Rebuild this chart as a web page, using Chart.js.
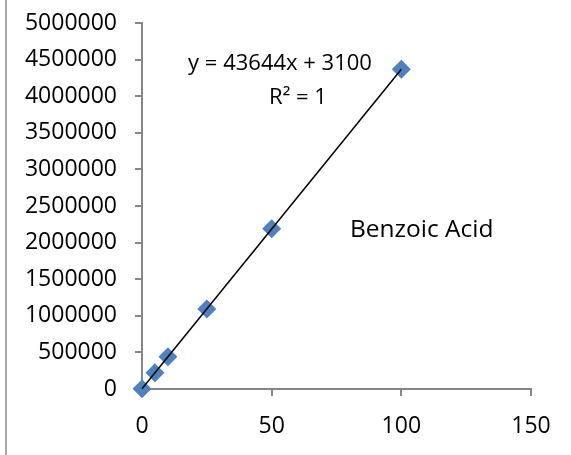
<!DOCTYPE html>
<html>
<head>
<meta charset="utf-8">
<script src="https://cdn.jsdelivr.net/npm/chart.js@4"></script>
<style>
  html, body { margin: 0; padding: 0; background: #fff; }
  #wrap { position: relative; width: 571px; height: 455px; }
  #wrap:before { content: ""; position: absolute; left: 5px; top: 0; width: 2px; height: 455px; background: #a6a6a6; }
</style>
</head>
<body>
<div id="wrap"><canvas id="chart" width="571" height="455"></canvas></div>
<script>
// Benzoic acid calibration
const concentration = [0, 5, 10, 25, 50, 100];
const peakArea = [3100, 221000, 440000, 1094000, 2190000, 4367000];
const trendX = [0, 100];
const slope = 43644;
const intercept = 3100;
const xTicks = [0, 50, 100, 150];
const yTicks = [0, 500000, 1000000, 1500000, 2000000, 2500000, 3000000, 3500000, 4000000, 4500000, 5000000];

const font = "'Open Sans', sans-serif";
const axisGray = '#868686';

// text drawn on the plot
const labels = {
    id: 'labels',
    afterDraw(chart) {
        const ctx = chart.ctx;
        ctx.save();
        ctx.fillStyle = '#000';
        ctx.textBaseline = 'alphabetic';
        ctx.font = "22px " + font;
        ctx.textAlign = 'center';
        ctx.fillText('y = 43644x + 3100', 280, 70);
        ctx.fillText('R² = 1', 298, 104);
        ctx.font = "24.5px " + font;
        ctx.textAlign = 'left';
        ctx.fillText('Benzoic Acid', 350, 237);
        ctx.restore();
    }
};

new Chart(document.getElementById('chart'), {
    type: 'scatter',
    data: {
        datasets: [
            {
                label: 'Linear',
                data: trendX.map(x => ({ x: x, y: slope * x + intercept })),
                showLine: true,
                borderColor: '#000',
                borderWidth: 1.5,
                pointRadius: 0,
                clip: false
            },
            {
                label: 'Benzoic Acid',
                data: concentration.map((x, i) => ({ x: x, y: peakArea[i] })),
                pointStyle: 'rectRot',
                pointRadius: 9.5,
                backgroundColor: '#4F81BD',
                borderColor: '#4F81BD',
                borderWidth: 0,
                clip: false
            }
        ]
    },
    options: {
        responsive: false,
        animation: false,
        layout: { padding: { top: 23, right: 40, left: 0, bottom: 0 } },
        plugins: { legend: { display: false }, tooltip: { enabled: false } },
        scales: {
            x: {
                type: 'linear',
                min: 0, max: 150,
                afterBuildTicks: s => { s.ticks = xTicks.map(v => ({ value: v })); },
                afterFit: s => { s.height = 66; s.paddingLeft = 0; s.paddingRight = 0; },
                grid: { display: true, drawOnChartArea: false, drawTicks: true, tickLength: 7, color: axisGray, lineWidth: 2 },
                border: { color: axisGray, width: 2 },
                ticks: { color: '#000', font: { family: font, size: 23 }, padding: 17, maxRotation: 0 }
            },
            y: {
                type: 'linear',
                min: 0, max: 5000000,
                afterBuildTicks: s => { s.ticks = yTicks.map(v => ({ value: v })); },
                afterFit: s => { s.width = 142; s.paddingTop = 0; s.paddingBottom = 0; },
                grid: { display: true, drawOnChartArea: false, drawTicks: true, tickLength: 7, color: axisGray, lineWidth: 2 },
                border: { color: axisGray, width: 2 },
                ticks: { color: '#000', font: { family: font, size: 23 }, padding: 18, callback: v => String(v) }
            }
        }
    },
    plugins: [labels]
});
</script>
</body>
</html>
